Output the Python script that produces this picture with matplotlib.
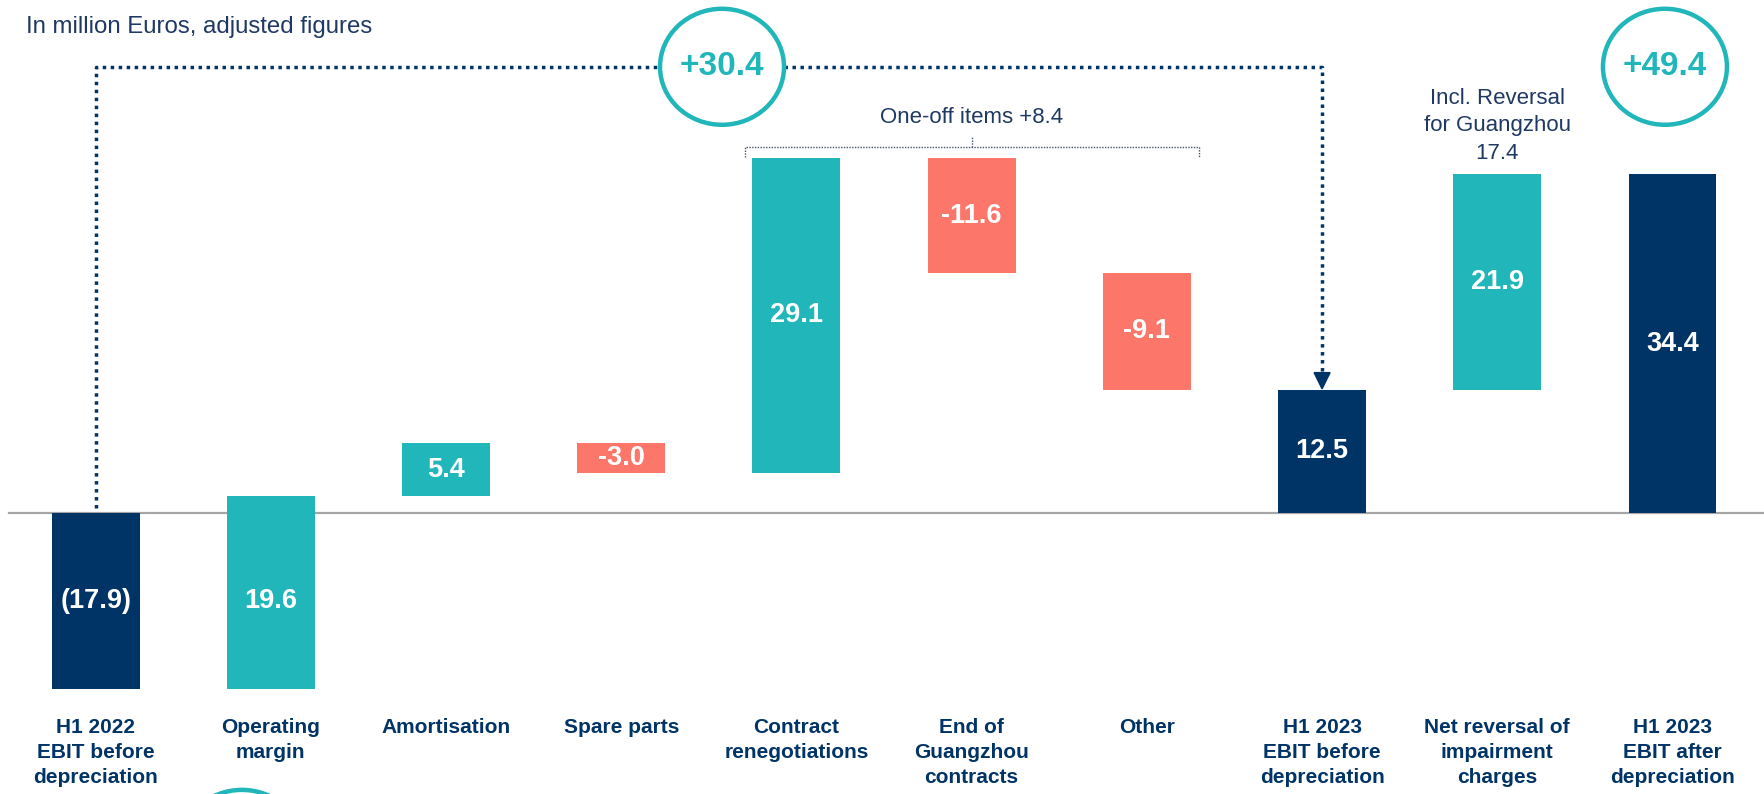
import matplotlib
matplotlib.use("Agg")
import matplotlib.pyplot as plt
from matplotlib.patches import Ellipse, Polygon

plt.rcParams['font.family'] = ['Liberation Sans', 'DejaVu Sans']

# --- data (million EUR) ---
categories = ["H1 2022\nEBIT before\ndepreciation", "Operating\nmargin", "Amortisation",
              "Spare parts", "Contract\nrenegotiations", "End of\nGuangzhou\ncontracts",
              "Other", "H1 2023\nEBIT before\ndepreciation", "Net reversal of\nimpairment\ncharges",
              "H1 2023\nEBIT after\ndepreciation"]
values = [-17.9, 19.6, 5.4, -3.0, 29.1, -11.6, -9.1, 12.5, 21.9, 34.4]
value_labels = ["(17.9)", "19.6", "5.4", "-3.0", "29.1", "-11.6", "-9.1", "12.5", "21.9", "34.4"]
kinds = ["total", "up", "up", "down", "up", "down", "down", "total", "up", "total"]
# bar extents as drawn in the source (it is not exactly to scale)
bar_from = [0, -17.9, 1.7, 7.1, 4.1, 36.0, 24.4, 0, 12.5, 0]
bar_to = [-17.9, 1.7, 7.1, 4.1, 36.0, 24.4, 12.5, 12.5, 34.4, 34.4]
oneoff_total = "+8.4"
ebitda_change = "+30.4"
ebit_change = "+49.4"
reversal_note = "Incl. Reversal\nfor Guangzhou\n17.4"

navy = "#003366"
teal = "#21B6B9"
salmon = "#FC766A"
text_navy = "#1F3864"
colors = {"total": navy, "up": teal, "down": salmon}

W, H = 1765, 794
fig = plt.figure(figsize=(W / 100, H / 100), dpi=100)
ax = fig.add_axes([0, 0, 1, 1])
ax.set_xlim(-0.546, 9.528)
ax.set_ylim(-28.53, 52.08)
ax.axis("off")

px_x = 175.2   # pixels per category
px_y = 9.85    # pixels per million

n = len(values)
for i in range(n):
    lo, hi = sorted([bar_from[i], bar_to[i]])
    ax.bar(i, hi - lo, bottom=lo, width=0.502, color=colors[kinds[i]], zorder=2)
    # label sits in the part below the axis when a bar crosses zero
    ly = (lo + min(hi, 0)) / 2 if lo < 0 < hi else (lo + hi) / 2
    ax.text(i, ly, value_labels[i], ha="center", va="center",
            color="white", fontsize=19.5, fontweight="bold", zorder=3)
    ax.text(i, -20.8, categories[i], ha="center", va="top", color=navy,
            fontsize=15, fontweight="bold", linespacing=1.42)

ax.axhline(0, xmin=0.005, xmax=1, color="#A6A6A6", lw=1.6, zorder=1)

# dotted connector from H1 2022 to H1 2023
cy = 45.3
rx, ry = 62, 58
cx1 = 3.575
dot = dict(color=navy, lw=2.5, linestyle=(0, (1, 1.3)), zorder=1)
ax.plot([0, 0, cx1 - rx / px_x], [0.5, cy, cy], **dot)
ax.plot([cx1 + rx / px_x, 7, 7], [cy, cy, bar_to[7] + 1.8], **dot)
tw = 8 / px_x
ax.add_patch(Polygon([(7 - tw, bar_to[7] + 1.75), (7 + tw, bar_to[7] + 1.75),
                      (7, bar_to[7] + 0.1)], closed=True, color=navy, zorder=3))

# circles with change figures
for cx, cyy, txt in [(cx1, cy, ebitda_change), (8.957, cy, ebit_change)]:
    ax.add_patch(Ellipse((cx, cyy), 2 * rx / px_x, 2 * ry / px_y, fill=False,
                         edgecolor=teal, lw=3.2, zorder=3))
    ax.text(cx, cyy, txt, ha="center", va="center", color=teal,
            fontsize=24, fontweight="bold")
ax.add_patch(Ellipse((0.835, -34.0), 2 * rx / px_x, 2 * ry / px_y, fill=False,
                     edgecolor=teal, lw=3.2, zorder=3))

# one-off items bracket
bx0, bx1, by = 3.706, 6.297, 37.16
br = dict(color="#44546A", lw=1.0, linestyle=(0, (1, 1)))
ax.plot([bx0, bx0, bx1, bx1], [36.1, by, by, 36.1], **br)
ax.plot([5, 5], [by, 38.3], **br)
ax.text(5, 40.2, "One-off items " + oneoff_total, ha="center", va="center",
        color=text_navy, fontsize=16)

ax.text(8, 39.3, reversal_note, ha="center", va="center", color=text_navy,
        fontsize=16, linespacing=1.43)

fig.text(26 / W, 1 - 27 / H, "In million Euros, adjusted figures", ha="left",
         va="center", color=text_navy, fontsize=17.3)

fig.savefig("out.png", dpi=100)
